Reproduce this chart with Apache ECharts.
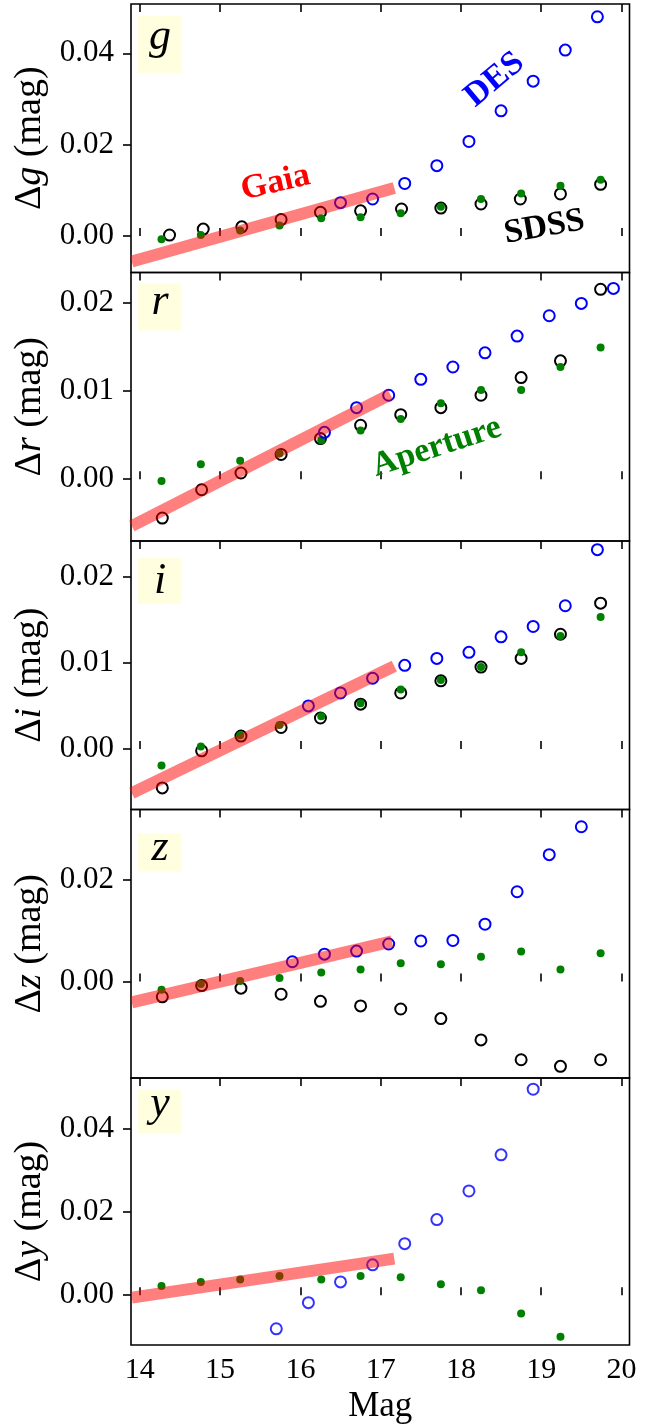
<!DOCTYPE html>
<html>
<head>
<meta charset="utf-8">
<script src="https://cdn.jsdelivr.net/npm/echarts@6/dist/echarts.min.js"></script>
<style>
  html, body { margin: 0; padding: 0; background: #fff; }
  #chart { width: 662px; height: 1425px; }
</style>
</head>
<body>
<div id="chart"></div>
<script>
// ---- data ----
const xTicks = [14, 15, 16, 17, 18, 19, 20];

// SDSS comparison (black open circles)
const magSdssG = [14.37, 14.79, 15.27, 15.76, 16.25, 16.75, 17.26, 17.75, 18.25, 18.74, 19.24, 19.74];
const magSdss = [14.28, 14.77, 15.26, 15.76, 16.25, 16.75, 17.25, 17.75, 18.25, 18.75, 19.24, 19.74];
const sdssG = [0.0002, 0.0015, 0.0020, 0.0036, 0.0052, 0.0055, 0.0059, 0.0061, 0.0070, 0.0081, 0.0092, 0.0113];
const sdssR = [-0.0044, -0.0012, 0.0007, 0.0028, 0.0046, 0.0061, 0.0073, 0.0081, 0.0095, 0.0115, 0.0134, 0.0215];
const sdssI = [-0.0045, -0.0002, 0.0015, 0.0025, 0.0036, 0.0052, 0.0065, 0.0079, 0.0095, 0.0105, 0.0133, 0.0169];
const sdssZ = [-0.0030, -0.0008, -0.0013, -0.0025, -0.0039, -0.0048, -0.0054, -0.0073, -0.0115, -0.0154, -0.0167, -0.0154];

// Aperture photometry (green dots)
const magAper = [14.27, 14.76, 15.25, 15.74, 16.26, 16.75, 17.25, 17.75, 18.25, 18.75, 19.24, 19.74];
const aperG = [-0.0007, 0.0002, 0.0012, 0.0023, 0.0039, 0.0041, 0.0050, 0.0064, 0.0081, 0.0093, 0.0110, 0.0123];
const aperR = [-0.0002, 0.0017, 0.0021, 0.0029, 0.0044, 0.0055, 0.0068, 0.0086, 0.0101, 0.0101, 0.0127, 0.0149];
const aperI = [-0.0019, 0.0003, 0.0016, 0.0028, 0.0038, 0.0053, 0.0069, 0.0080, 0.0095, 0.0112, 0.0131, 0.0153];
const aperZ = [-0.0016, -0.0005, 0.0001, 0.0007, 0.0018, 0.0024, 0.0036, 0.0034, 0.0049, 0.0059, 0.0024, 0.0056];
const aperY = [0.0022, 0.0032, 0.0038, 0.0046, 0.0038, 0.0046, 0.0043, 0.0026, 0.0012, -0.0044, -0.0100];

// DES (blue open circles)
const desMagG = [16.5, 16.9, 17.3, 17.7, 18.1, 18.5, 18.9, 19.3, 19.7];
const desG = [0.0073, 0.0081, 0.0115, 0.0154, 0.0207, 0.0274, 0.0339, 0.0407, 0.0480];
const desMagR = [16.3, 16.7, 17.1, 17.5, 17.9, 18.3, 18.7, 19.1, 19.5, 19.9];
const desR = [0.0053, 0.0081, 0.0095, 0.0113, 0.0127, 0.0143, 0.0162, 0.0185, 0.0199, 0.0216];
const desMagI = [16.1, 16.5, 16.9, 17.3, 17.7, 18.1, 18.5, 18.9, 19.3, 19.7];
const desI = [0.0050, 0.0065, 0.0082, 0.0097, 0.0105, 0.0112, 0.0130, 0.0142, 0.0166, 0.0231];
const desMagZ = [15.9, 16.3, 16.7, 17.1, 17.5, 17.9, 18.3, 18.7, 19.1, 19.5];
const desZ = [0.0039, 0.0054, 0.0060, 0.0074, 0.0080, 0.0081, 0.0113, 0.0177, 0.0250, 0.0305];
const desMagY = [15.7, 16.1, 16.5, 16.9, 17.3, 17.7, 18.1, 18.5, 18.9];
const desY = [-0.0081, -0.0018, 0.0032, 0.0073, 0.0124, 0.0182, 0.0251, 0.0338, 0.0496];

// Gaia trend (thick red band), end points
const gaiaMagG = [13.9, 17.17], gaiaG = [-0.0056, 0.0105];
const gaiaMagR = [13.9, 17.12], gaiaR = [-0.0053, 0.0096];
const gaiaMagI = [13.9, 17.17], gaiaI = [-0.0051, 0.0096];
const gaiaMagZ = [13.9, 17.14], gaiaZ = [-0.0041, 0.0079];
const gaiaMagY = [13.9, 17.17], gaiaY = [-0.0006, 0.0088];

// y tick labels per panel
const yTicksG = [0, 0.02, 0.04];
const yTicksR = [0, 0.01, 0.02];
const yTicksI = [0, 0.01, 0.02];
const yTicksZ = [0, 0.02];
const yTicksY = [0, 0.02, 0.04];

const zip = (xs, ys) => xs.map((x, i) => [x, ys[i]]);

// ---- layout ----
const FONT = '"Liberation Serif", "DejaVu Serif", serif';
const gridLeft = 131, gridRight = 629.5, gridTop = 4, panelH = 268.5;

const panels = [
  { band: 'g', ymin: -0.0080, ymax: 0.0508, ticks: yTicksG, sdss: zip(magSdssG, sdssG), aper: zip(magAper, aperG),
    des: zip(desMagG, desG), gaia: zip(gaiaMagG, gaiaG), box: [12, 57, 34] },
  { band: 'r', ymin: -0.0070, ymax: 0.0234, ticks: yTicksR, sdss: zip(magSdss, sdssR), aper: zip(magAper, aperR),
    des: zip(desMagR, desR), gaia: zip(gaiaMagR, gaiaR), box: [11, 47, 32] },
  { band: 'i', ymin: -0.0070, ymax: 0.0241, ticks: yTicksI, sdss: zip(magSdss, sdssI), aper: zip(magAper, aperI),
    des: zip(desMagI, desI), gaia: zip(gaiaMagI, gaiaI), box: [17, 46, 36] },
  { band: 'z', ymin: -0.0190, ymax: 0.0339, ticks: yTicksZ, sdss: zip(magSdss, sdssZ), aper: zip(magAper, aperZ),
    des: zip(desMagZ, desZ), gaia: zip(gaiaMagZ, gaiaZ), box: [24, 38, 28] },
  { band: 'y', ymin: -0.0120, ymax: 0.0523, ticks: yTicksY, sdss: null, aper: zip(magAper.slice(0, 11), aperY),
    des: zip(desMagY, desY), gaia: zip(gaiaMagY, gaiaY), box: [12, 43, 27] }
];

// text labels: [panel, text, mag, value, rotate, color]
const notes = [
  [0, 'Gaia', 15.69, 0.0116, 13, '#ff0000'],
  [0, 'DES', 18.42, 0.0342, 40, '#0000ff'],
  [0, 'SDSS', 19.04, 0.0019, 10, '#000000'],
  [1, 'Aperture', 17.70, 0.0036, 18, '#008000']
];

const grids = [], xAxes = [], yAxes = [], series = [], graphics = [];

panels.forEach((p, k) => {
  const top = gridTop + k * panelH;
  const last = k === panels.length - 1;
  grids.push({
    left: gridLeft, top: top, width: gridRight - gridLeft, height: panelH,
    show: true, borderColor: '#000', borderWidth: 1.6, backgroundColor: 'transparent'
  });
  const xBase = {
    type: 'value', gridIndex: k, min: 13.89, max: 20.1,
    axisLine: { show: false }, splitLine: { show: false },
    axisTick: { show: true, inside: true, length: 8, customValues: xTicks, lineStyle: { color: '#000', width: 1.6 } }
  };
  xAxes.push(Object.assign({}, xBase, {
    position: 'bottom',
    axisLabel: {
      show: last, customValues: xTicks, margin: 10, color: '#000',
      fontFamily: FONT, fontSize: 30
    },
    name: last ? 'Mag' : '', nameLocation: 'middle', nameGap: 44,
    nameTextStyle: { fontFamily: FONT, fontSize: 35, color: '#000' }
  }));
  xAxes.push(Object.assign({}, xBase, { position: 'top', axisLabel: { show: false } }));
  yAxes.push({
    type: 'value', gridIndex: k, min: p.ymin, max: p.ymax,
    axisLine: { show: false }, splitLine: { show: false },
    axisTick: { show: true, inside: false, length: 8, customValues: p.ticks, lineStyle: { color: '#000', width: 1.6 } },
    axisLabel: {
      customValues: p.ticks, margin: 17, color: '#000', fontFamily: FONT, fontSize: 31,
      formatter: v => v.toFixed(2)
    },
    name: '{n|Δ}{it|' + p.band + '}{n| (mag)}', nameLocation: 'middle', nameGap: 80,
    nameTextStyle: {
      fontFamily: FONT, fontSize: 38, color: '#000',
      rich: {
        n: { fontFamily: FONT, fontSize: 38, color: '#000' },
        it: { fontFamily: FONT, fontSize: 38, fontStyle: 'italic', color: '#000' }
      }
    }
  });

  const xi = 2 * k, yi = k;
  if (p.sdss) {
    series.push({
      type: 'scatter', xAxisIndex: xi, yAxisIndex: yi, data: p.sdss, z: 2,
      symbol: 'circle', symbolSize: 11,
      itemStyle: { color: 'rgba(0,0,0,0)', borderColor: '#000', borderWidth: 2, opacity: 1 }
    });
  }
  series.push({
    type: 'scatter', xAxisIndex: xi, yAxisIndex: yi, data: p.aper, z: 3,
    symbol: 'circle', symbolSize: 8, itemStyle: { color: '#008000', opacity: 1 }
  });
  series.push({
    type: 'scatter', xAxisIndex: xi, yAxisIndex: yi, data: p.des, z: 4,
    symbol: 'circle', symbolSize: 11,
    itemStyle: { color: 'rgba(0,0,0,0)', borderColor: '#0000ff', borderWidth: 2, opacity: p.band === 'y' ? 0.8 : 1 }
  });
  series.push({
    type: 'line', xAxisIndex: xi, yAxisIndex: yi, data: p.gaia, z: 5,
    symbol: 'none', lineStyle: { color: 'rgba(255,0,0,0.5)', width: 12, cap: 'butt' }
  });

  // band letter in a light yellow box
  const [bTop, bH, base] = p.box;
  graphics.push({
    type: 'rect', left: 138, top: top + bTop, silent: true, z: 10,
    shape: { width: 43, height: bH }, style: { fill: '#ffffe0' }
  });
  graphics.push({
    type: 'text', x: 160, y: top + bTop + base - 13, silent: true, z: 11,
    style: {
      text: p.band, fill: '#000', font: 'italic 44px ' + FONT,
      align: 'center', verticalAlign: 'middle'
    }
  });
});

notes.forEach(([k, text, x, y, rot, color]) => {
  series.push({
    type: 'scatter', xAxisIndex: 2 * k, yAxisIndex: k, data: [[x, y]], z: 6, silent: true,
    symbolSize: 1, itemStyle: { color: 'rgba(0,0,0,0)', opacity: 1 },
    label: {
      show: true, position: 'inside', formatter: text, rotate: rot, opacity: 1,
      color: color, fontFamily: FONT, fontWeight: 'bold', fontSize: 34,
      textBorderWidth: 0
    }
  });
});

const chart = echarts.init(document.getElementById('chart'));
chart.setOption({
  animation: false,
  backgroundColor: '#fff',
  grid: grids,
  xAxis: xAxes,
  yAxis: yAxes,
  series: series,
  graphic: graphics
});
</script>
</body>
</html>
